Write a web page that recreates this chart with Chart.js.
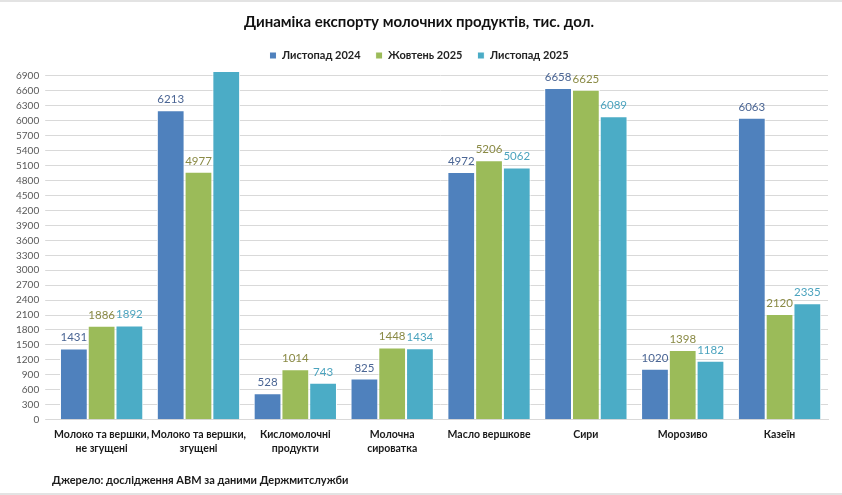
<!DOCTYPE html>
<html lang="uk">

<head>
    <meta charset="UTF-8">
    <title>Динаміка експорту молочних продуктів</title>
    <script src="https://cdn.jsdelivr.net/npm/chart.js"></script>
    <style>
        body { margin: 0; background: #fff; }
        .quadro { position: relative; width: 842px; height: 495px; box-sizing: border-box;
            border-top: 2px solid #e3e3e3; border-bottom: 2px solid #e3e3e3; }
        .fonte { position: absolute; left: 52px; top: 471px; font: bold 11px Lato, sans-serif; color: #1a1a1a; }
    </style>
</head>

<body>
    <div class="quadro">
        <canvas id="grafico" width="842" height="491"></canvas>
        <div class="fonte">Джерело: дослідження АВМ за даними Держмитслужби</div>
    </div>

<script>
    // категорії
    const categorias = [
        ['Молоко та вершки,', 'не згущені'],
        ['Молоко та вершки,', 'згущені'],
        ['Кисломолочні', 'продукти'],
        ['Молочна', 'сироватка'],
        'Масло вершкове',
        'Сири',
        'Морозиво',
        'Казеїн'
    ]
    const nomesSeries = ['Листопад 2024', 'Жовтень 2025', 'Листопад 2025']

    const listopad2024 = [1431, 6213, 528, 825, 4972, 6658, 1020, 6063]
    const zhovten2025 = [1886, 4977, 1014, 1448, 5206, 6625, 1398, 2120]
    const listopad2025 = [1892, 7000, 743, 1434, 5062, 6089, 1182, 2335]  // 2-й стовпчик обрізаний у шкалі, підпису немає

    const cores = ['#4F81BD', '#9BBB59', '#4BACC6']
    const coresRotulos = ['#4A6594', '#8A8A45', '#4BA3BE']

    // rótulos em cima das barras
    const pluginRotulos = {
        id: 'rotulos',
        afterDatasetsDraw(chart) {
            const ctx = chart.ctx
            ctx.save()
            ctx.font = '11.5px Lato, sans-serif'
            ctx.textAlign = 'center'
            ctx.textBaseline = 'bottom'
            chart.data.datasets.forEach(function (ds, i) {
                const meta = chart.getDatasetMeta(i)
                meta.data.forEach(function (barra, j) {
                    if (ds.data[j] >= 7000) return
                    ctx.fillStyle = coresRotulos[i]
                    ctx.fillText(ds.data[j], barra.x, barra.y - 5)
                })
            })
            ctx.restore()
        }
    }

    const dadosSeries = [listopad2024, zhovten2025, listopad2025]

    new Chart(document.getElementById('grafico'), {
        type: 'bar',
        data: {
            labels: categorias,
            datasets: dadosSeries.map(function (valores, i) {
                return {
                    label: nomesSeries[i],
                    data: valores,
                    backgroundColor: cores[i],
                    borderColor: '#ffffff',
                    borderWidth: 1,
                    borderSkipped: 'bottom',
                    categoryPercentage: 0.86,
                    barPercentage: 1
                }
            })
        },
        options: {
            responsive: false,
            animation: false,
            layout: { padding: { left: 10, right: 14, top: 7, bottom: 37 } },
            plugins: {
                title: {
                    display: true,
                    text: 'Динаміка експорту молочних продуктів, тис. дол.',
                    font: { family: 'Lato', size: 15, weight: 'bold' },
                    color: '#111',
                    padding: { top: 4, bottom: 4 }
                },
                legend: {
                    labels: {
                        boxWidth: 7,
                        boxHeight: 7,
                        font: { family: 'Lato', size: 11, weight: 'bold' },
                        color: '#222',
                        padding: 15
                    }
                },
                tooltip: { enabled: false }
            },
            scales: {
                x: {
                    grid: { display: false },
                    border: { color: '#d9d9d9' },
                    ticks: {
                        font: { family: 'Lato', size: 10.5, weight: 'bold', lineHeight: 1.35 },
                        color: '#1a1a1a',
                        maxRotation: 0,
                        autoSkip: false,
                        padding: 0
                    }
                },
                y: {
                    min: 0,
                    max: 7000,
                    border: { display: false },
                    grid: { color: '#d9d9d9' },
                    ticks: {
                        stepSize: 300,
                        includeBounds: false,
                        autoSkip: false,
                        callback: function (v) { return v },
                        font: { family: 'Lato', size: 10 },
                        color: '#595959',
                        padding: 6
                    }
                }
            }
        },
        plugins: [pluginRotulos]
    })
</script>
</body>

</html>
